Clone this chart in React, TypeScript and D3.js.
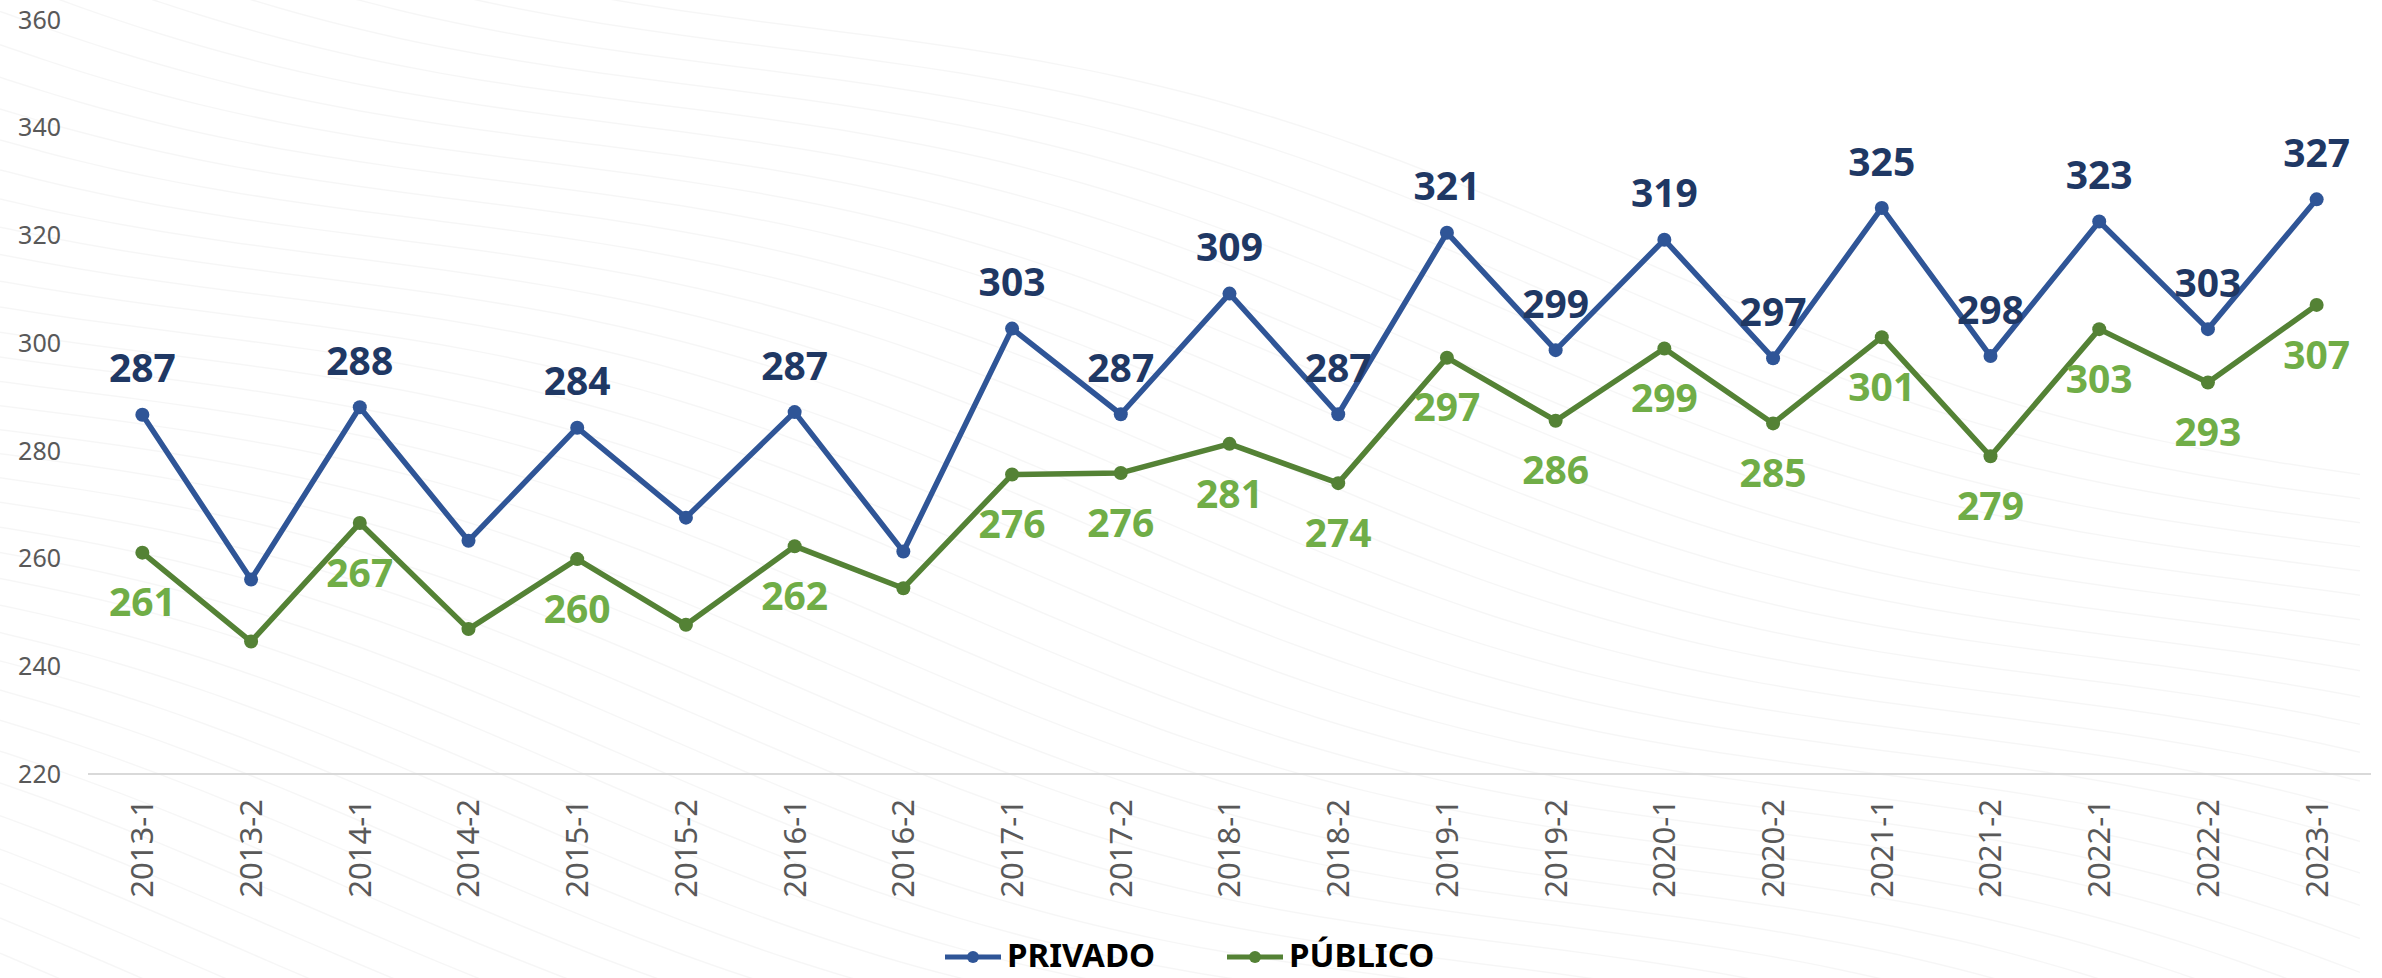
import React from "react";
import * as d3 from "d3";

const categories = [
  "2013-1", "2013-2", "2014-1", "2014-2", "2015-1", "2015-2", "2016-1", "2016-2",
  "2017-1", "2017-2", "2018-1", "2018-2", "2019-1", "2019-2", "2020-1", "2020-2",
  "2021-1", "2021-2", "2022-1", "2022-2", "2023-1",
];
const privado = [
  286.7, 256.1, 288.1, 263.3, 284.3, 267.6, 287.2, 261.3, 302.7, 286.8, 309.2,
  286.8, 320.5, 298.7, 319.2, 297.2, 325.1, 297.6, 322.6, 302.6, 326.7,
];
const publico = [
  261.1, 244.6, 266.6, 246.9, 259.9, 247.7, 262.3, 254.5, 275.6, 275.9, 281.3,
  274.0, 297.3, 285.6, 299.0, 285.1, 301.1, 279.0, 302.6, 292.7, 307.1,
];
// labels shown only where the original chart shows them
const privadoShown = [1, 0, 1, 0, 1, 0, 1, 0, 1, 1, 1, 1, 1, 1, 1, 1, 1, 1, 1, 1, 1];
const publicoShown = [1, 0, 1, 0, 1, 0, 1, 0, 1, 1, 1, 1, 1, 1, 1, 1, 1, 1, 1, 1, 1];
const yTicks = [220, 240, 260, 280, 300, 320, 340, 360];
const seriesNames = ["PRIVADO", "PÚBLICO"];

const W = 2382;
const H = 978;
const plotLeft = 88;
const plotRight = 2371;
const yTop = 20;
const yBottom = 774;

const lineBlue = "#2F5597";
const labelBlue = "#1F3864";
const lineGreen = "#548235";
const labelGreen = "#70AD47";
const font = "'Noto Sans', sans-serif";

export default function App() {
  const x = d3.scaleBand<string>().domain(categories).range([plotLeft, plotRight]);
  const cx = (c: string) => (x(c) as number) + x.bandwidth() / 2;
  const y = d3.scaleLinear().domain([220, 360]).range([yBottom, yTop]);

  const line = d3
    .line<number>()
    .x((_, i) => cx(categories[i]))
    .y((d) => y(d));

  // faint decorative background waves
  const waves: string[] = [];
  for (let k = 0; k < 40; k++) {
    const pts: [number, number][] = [];
    for (let px = 0; px <= W; px += 40) {
      pts.push([px, -200 + k * 30 + px * 0.28 + 40 * Math.sin(px / 260 + k * 0.15)]);
    }
    waves.push(d3.line().curve(d3.curveBasis)(pts) as string);
  }

  const legendY = 955;
  const legendItems = [
    { name: seriesNames[0], color: lineBlue, x0: 945 },
    { name: seriesNames[1], color: lineGreen, x0: 1227 },
  ];

  return (
    <svg
      width={W}
      height={H}
      style={{ position: "absolute", left: 0, top: 0, background: "#fff" }}
    >
      <g>
        {waves.map((d, i) => (
          <path key={i} d={d} fill="none" stroke="#000" strokeOpacity={0.035} strokeWidth={1.5} />
        ))}
      </g>

      {/* y tick labels */}
      {yTicks.map((t) => (
        <text
          key={t}
          x={61}
          y={y(t)}
          dy="0.35em"
          textAnchor="end"
          fontFamily={font}
          fontSize={25}
          fill="#595959"
        >
          {t}
        </text>
      ))}

      {/* axis line */}
      <line x1={plotLeft} x2={plotRight} y1={yBottom} y2={yBottom} stroke="#D9D9D9" strokeWidth={2} />

      {/* x labels */}
      {categories.map((c) => (
        <text
          key={c}
          transform={`translate(${cx(c)},${yBottom + 25}) rotate(-90)`}
          textAnchor="end"
          dy="0.35em"
          fontFamily={font}
          fontSize={31}
          fill="#595959"
        >
          {c}
        </text>
      ))}

      {/* lines */}
      <path d={line(publico) as string} fill="none" stroke={lineGreen} strokeWidth={5.5} strokeLinejoin="round" />
      <path d={line(privado) as string} fill="none" stroke={lineBlue} strokeWidth={5.5} strokeLinejoin="round" />

      {publico.map((v, i) => (
        <circle key={"g" + i} cx={cx(categories[i])} cy={y(v)} r={7} fill={lineGreen} />
      ))}
      {privado.map((v, i) => (
        <circle key={"b" + i} cx={cx(categories[i])} cy={y(v)} r={7} fill={lineBlue} />
      ))}

      {/* data labels */}
      {privado.map((v, i) =>
        privadoShown[i] ? (
          <text
            key={"bl" + i}
            x={cx(categories[i])}
            y={y(v) - 46}
            dy="0.35em"
            textAnchor="middle"
            fontFamily={font}
            fontWeight="bold"
            fontSize={39}
            fill={labelBlue}
          >
            {Math.round(v)}
          </text>
        ) : null
      )}
      {publico.map((v, i) =>
        publicoShown[i] ? (
          <text
            key={"gl" + i}
            x={cx(categories[i])}
            y={y(v) + 50}
            dy="0.35em"
            textAnchor="middle"
            fontFamily={font}
            fontWeight="bold"
            fontSize={39}
            fill={labelGreen}
          >
            {Math.round(v)}
          </text>
        ) : null
      )}

      {/* legend */}
      {legendItems.map((it) => (
        <g key={it.name}>
          <line x1={it.x0} x2={it.x0 + 56} y1={legendY + 2} y2={legendY + 2} stroke={it.color} strokeWidth={5} />
          <circle cx={it.x0 + 28} cy={legendY + 2} r={6} fill={it.color} />
          <text
            x={it.x0 + 62}
            y={legendY}
            dy="0.35em"
            fontFamily={font}
            fontWeight="bold"
            fontSize={33}
            fill="#000"
          >
            {it.name}
          </text>
        </g>
      ))}
    </svg>
  );
}
